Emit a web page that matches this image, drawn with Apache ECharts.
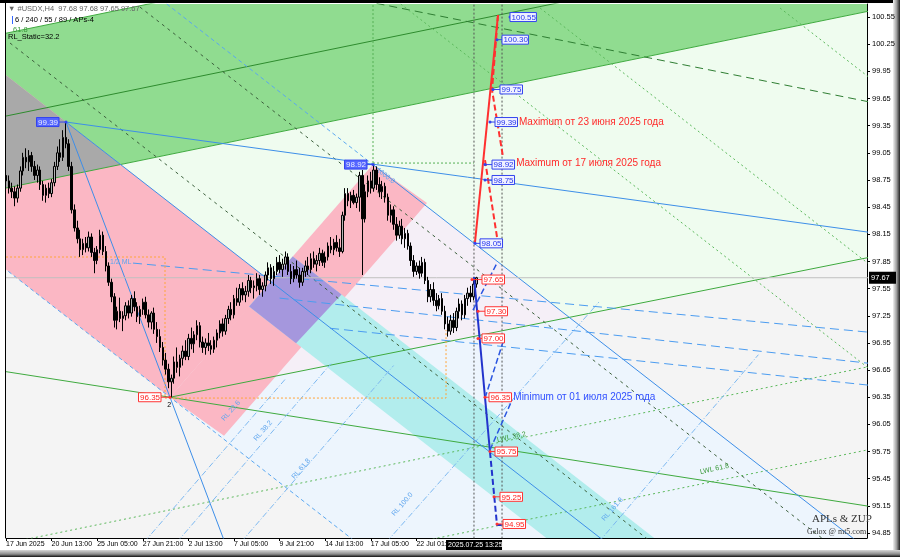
<!DOCTYPE html>
<html><head><meta charset="utf-8">
<script src="https://cdn.jsdelivr.net/npm/echarts@6/dist/echarts.min.js"></script>
<style>html,body{margin:0;padding:0;background:#fff;}#chart{width:900px;height:557px;}</style>
</head><body><div id="chart"></div>
<script>
// ---------- DATA ----------
const xTickBars = [0,16,32,48,64,80,96,112,128,144];
const xTickLabels = ['17 Jun 2025','20 Jun 13:00','25 Jun 05:00','27 Jun 21:00','2 Jul 13:00','7 Jul 05:00','9 Jul 21:00','14 Jul 13:00','17 Jul 05:00','22 Jul 01:00'];
const yTicks = [94.85,95.15,95.45,95.75,96.05,96.35,96.65,96.95,97.25,97.55,97.85,98.15,98.45,98.75,99.05,99.35,99.65,99.95,100.25,100.55];
const lastPrice = 97.67;
const lastTimeBar = 174.04;
const lastTimeText = '2025.07.25 13:25';
// H4 candles [open, high, low, close]
const ohlc = [
[98.80,98.86,98.70,98.74],[98.74,98.80,98.60,98.66],[98.66,98.72,98.55,98.62],[98.62,98.68,98.46,98.55],[98.55,98.70,98.50,98.66],
[98.66,98.90,98.62,98.85],[98.85,99.05,98.80,99.00],[99.00,99.10,98.88,98.95],[98.95,99.08,98.85,99.02],[99.02,99.06,98.84,98.90],
[98.90,98.96,98.75,98.80],[98.80,98.92,98.72,98.86],[98.86,98.90,98.64,98.70],[98.70,98.74,98.52,98.58],[98.58,98.70,98.50,98.66],
[98.66,98.72,98.55,98.60],[98.60,98.76,98.56,98.72],[98.72,98.95,98.68,98.90],[98.90,99.12,98.86,99.05],[99.05,99.20,98.95,99.00],
[99.00,99.30,98.96,99.22],[99.22,99.39,99.10,99.15],[99.15,99.20,98.85,98.90],[98.90,98.95,98.38,98.42],[98.42,98.48,98.18,98.22],
[98.22,98.30,98.05,98.10],[98.10,98.20,97.90,97.98],[97.98,98.10,97.92,98.05],[98.05,98.12,97.95,98.00],[98.00,98.18,97.96,98.12],
[98.12,98.16,97.90,97.95],[97.95,98.00,97.72,97.86],[97.86,98.02,97.82,97.98],[97.98,98.20,97.94,98.14],[98.14,98.18,97.92,97.96],
[97.96,98.02,97.74,97.80],[97.80,97.84,97.58,97.62],[97.62,97.66,97.40,97.46],[97.46,97.50,97.12,97.20],[97.20,97.35,97.10,97.30],
[97.30,97.45,97.18,97.22],[97.22,97.30,97.08,97.25],[97.25,97.40,97.20,97.36],[97.36,97.42,97.22,97.28],[97.28,97.48,97.24,97.44],
[97.44,97.52,97.30,97.35],[97.35,97.40,97.18,97.24],[97.24,97.36,97.16,97.32],[97.32,97.44,97.26,97.40],[97.40,97.46,97.22,97.26],
[97.26,97.32,97.12,97.18],[97.18,97.30,97.10,97.28],[97.28,97.34,97.05,97.10],[97.10,97.18,96.95,97.02],[97.02,97.10,96.85,96.90],
[96.90,96.96,96.70,96.76],[96.76,96.84,96.60,96.66],[96.66,96.72,96.45,96.52],[96.52,96.60,96.35,96.56],[96.56,96.80,96.50,96.74],
[96.74,96.90,96.62,96.68],[96.68,96.82,96.58,96.78],[96.78,96.92,96.70,96.86],[96.86,96.98,96.76,96.80],[96.80,97.05,96.76,97.00],
[97.00,97.12,96.88,96.94],[96.94,97.08,96.84,97.04],[97.04,97.20,96.98,97.14],[97.14,97.18,96.90,96.96],[96.96,97.02,96.84,96.90],
[96.90,97.00,96.82,96.95],[96.95,97.06,96.86,96.92],[96.92,96.98,96.82,96.88],[96.88,97.02,96.84,96.98],[96.98,97.10,96.90,97.06],
[97.06,97.20,97.00,97.16],[97.16,97.22,97.02,97.08],[97.08,97.26,97.04,97.22],[97.22,97.36,97.16,97.32],[97.32,97.40,97.20,97.26],
[97.26,97.48,97.22,97.44],[97.44,97.56,97.36,97.40],[97.40,97.60,97.36,97.55],[97.55,97.62,97.42,97.48],[97.48,97.58,97.40,97.52],
[97.52,97.70,97.46,97.64],[97.64,97.68,97.50,97.56],[97.56,97.64,97.44,97.58],[97.58,97.72,97.52,97.66],[97.66,97.70,97.48,97.54],
[97.54,97.62,97.46,97.58],[97.58,97.74,97.52,97.70],[97.70,97.84,97.64,97.78],[97.78,97.82,97.60,97.66],[97.66,97.80,97.58,97.74],
[97.74,97.90,97.70,97.84],[97.84,97.92,97.72,97.76],[97.76,97.88,97.68,97.82],[97.82,97.96,97.76,97.90],[97.90,97.94,97.70,97.74],
[97.74,97.82,97.60,97.66],[97.66,97.80,97.62,97.76],[97.76,97.86,97.66,97.70],[97.70,97.78,97.56,97.62],[97.62,97.78,97.58,97.74],
[97.74,97.86,97.68,97.80],[97.80,97.90,97.70,97.76],[97.76,97.94,97.72,97.88],[97.88,97.96,97.78,97.82],[97.82,97.92,97.74,97.86],
[97.86,98.00,97.80,97.94],[97.94,97.98,97.80,97.84],[97.84,97.96,97.78,97.90],[97.90,98.06,97.86,98.02],[98.02,98.12,97.94,97.98],
[97.98,98.10,97.92,98.06],[98.06,98.14,97.96,98.00],[98.00,98.10,97.90,97.96],[97.96,98.40,97.94,98.36],[98.36,98.66,98.30,98.60],
[98.60,98.66,98.46,98.52],[98.52,98.62,98.44,98.58],[98.58,98.64,98.48,98.50],[98.50,98.60,98.44,98.56],[98.56,98.84,98.40,98.80],
[98.80,98.86,97.70,98.32],[98.32,98.70,98.28,98.62],[98.62,98.80,98.56,98.74],[98.74,98.84,98.60,98.66],[98.66,98.92,98.62,98.86],
[98.86,98.90,98.64,98.70],[98.70,98.78,98.56,98.62],[98.62,98.74,98.54,98.68],[98.68,98.72,98.50,98.56],[98.56,98.60,98.30,98.36],
[98.36,98.48,98.28,98.42],[98.42,98.46,98.20,98.26],[98.26,98.34,98.08,98.14],[98.14,98.30,98.10,98.24],[98.24,98.32,98.04,98.10],
[98.10,98.22,98.00,98.16],[98.16,98.20,97.98,98.02],[98.02,98.06,97.80,97.86],[97.86,97.92,97.68,97.74],[97.74,97.84,97.70,97.80],
[97.80,97.86,97.66,97.72],[97.72,97.90,97.68,97.84],[97.84,97.88,97.60,97.64],[97.64,97.68,97.40,97.46],[97.46,97.60,97.40,97.54],
[97.54,97.62,97.36,97.42],[97.42,97.50,97.30,97.36],[97.36,97.48,97.32,97.44],[97.44,97.50,97.26,97.30],[97.30,97.36,97.10,97.16],
[97.16,97.24,97.02,97.08],[97.08,97.26,97.04,97.20],[97.20,97.28,97.06,97.12],[97.12,97.34,97.08,97.30],[97.30,97.44,97.22,97.38],
[97.38,97.42,97.20,97.26],[97.26,97.48,97.22,97.44],[97.44,97.56,97.36,97.50],[97.50,97.58,97.40,97.46],[97.46,97.64,97.42,97.60],
[97.60,97.68,97.56,97.67]
];
// filled regions, [bar, price] vertices
const polyBase = [[-5,94],[320,94],[320,101.5],[-5,101.5]];
const polyWhiteTop = [[-5,100.339],[60,100.758],[60,101.5],[-5,101.5]];
const polyGreenBand = [[-5,100.339],[310,102.372],[310,100.662],[-5,98.629]];
const polyMint = [[40.2,98.92],[310,100.662],[310,97.94],[197.6,97.232],[128.77,98.92],[93.16,97.622]];
const polyLightBlue = [[57.54,96.35],[197.6,97.232],[330,93.988],[330,89.671]];
const polyLavender = [[57.54,96.35],[128.77,98.92],[197.6,97.232]];
const polyPinkDesc = [[-5,100.029],[93.16,97.622],[57.54,96.35],[-5,97.883]];
const polyGray = [[-5,100.029],[40.2,98.92],[-5,98.629]];
const polyPinkAsc = [[57.54,96.35],[128.77,98.92],[147.72,98.495],[76.49,95.925]];
const polyTeal = [[100.61,97.904],[330,92.281],[330,91.353],[85.29,97.351]];
const polyPurple = [[85.29,97.351],[100.61,97.904],[117.72,97.484],[101.77,96.947]];
// lines
const lineU = [[-5,100.339],[310,102.372]];
const lineM = [[-5,99.424],[310,101.457]];
const lineL = [[-5,98.629],[310,100.662]];
const lineB = [[57.54,96.35],[310,97.94]];
const lineW = [[-5,96.657],[310,95.11]];
const lineGDash = [[130,100.701],[310,99.568]];
const lineD1 = [[-5,94.702],[310,96.735]];
const lineD2 = [[-5,93.785],[310,95.818]];
const lineGrDark1 = [[47.0,100.66],[306,94.31]];
const lineGrDark2 = [[1.4,100.263],[306,92.8]];
const lineGrA = [[138.5,100.694],[306,96.589]];
const lineGrB = [[187.4,100.649],[306,97.742]];
const lineGrC = [[271.6,100.649],[306,99.806]];
const lineML = [[21.05,99.39],[330,91.817]];
const lineQ = [[128.77,98.92],[330,93.988]];
const lineQback = [[56.4,100.694],[128.77,98.92]];
const linePL = [[-5,97.883],[330,89.671]];
const lineP1 = [[21.05,99.39],[310,98.141]];
const lineP2 = [[21.05,99.39],[80,94.479]];
const lineH1 = [[44.56,97.832],[310,97.047]];
const lineH2 = [[96,97.445],[310,96.7]];
const lineH3 = [[113.7,97.112],[310,96.459]];
const lineRL = [
  [[48.5,94.75],[98,96.55]],
  [[60.0,94.75],[114,96.72]],
  [[82.5,94.75],[136,96.70]],
  [[133.5,94.75],[208,97.40]],
  [[208.0,94.75],[264,96.82]]
];
const orangeDots = [[[0,97.899],[55.79,97.899],[55.79,96.341],[154.39,96.341],[154.39,97.092]]];
const greenDotH = [[128.77,98.937],[164.2,98.937]];
const greenDotV = [[128.77,98.937],[128.77,100.8]];
const vDot1 = [[164.2,94.7],[164.2,100.8]];
const vDot2 = [[174.04,94.7],[174.04,100.8]];
const priceLine = [[-5,97.67],[310,97.67]];
const redSolid = [[164.56,98.064],[172.63,100.572]];
const redDash1 = [[172.63,100.572],[170.53,99.744],[174.39,99.003]];
const redDash2 = [[168.07,98.97],[172.28,98.12]];
const blueSolid = [[164.21,97.678],[169.82,95.745]];
const blueDash1 = [[169.82,95.745],[172.28,94.938],[174.39,94.938]];
const blueDash2 = [[168.07,96.341],[174.39,96.96]];
const blueDash3 = [[163.86,97.313],[172.28,97.833]];
const blueDash4 = [[169.82,95.767],[177.54,96.319]];
// price boxes [tickFromBar, boxBar, price, text]
const blueBoxes = [
  [176.84,176.84,100.55,'100.55'],[172.28,174.04,100.30,'100.30'],[170.88,173.33,99.75,'99.75'],
  [169.82,171.58,99.39,'99.39'],[168.07,170.53,98.92,'98.92'],[168.07,170.53,98.75,'98.75'],[164.56,166.32,98.05,'98.05']
];
const redBoxes = [
  [163.51,167.02,97.65,'97.65'],[165.61,168.07,97.30,'97.30'],[165.61,167.02,97.00,'97.00'],
  [168.07,169.47,96.35,'96.35'],[169.82,171.58,95.75,'95.75'],[171.23,173.33,95.25,'95.25'],[172.28,174.39,94.95,'94.95']
];
const leftBlueBoxes = [[21.05,18.6,99.39,'99.39'],[128.77,126.67,98.92,'98.92']];
const leftRedBoxes = [[57.54,54.39,96.35,'96.35']];
// annotation texts [bar, price, text, rotationDeg]
const redNotes = [[180.0,99.39,'Maximum от 23 июня 2025 года',0],[179.0,98.93,'Maximum от 17 июля 2025 года',0]];
const blueNotes = [[178.0,96.35,'Minimum от 01 июля 2025 года',0]];
const rlLabels = [[76.1,96.098,'RL 23.6',49],[87.37,95.877,'RL 38.2',49],[100.7,95.457,'RL 61.8',49],[135.8,95.048,'RL 100.0',49],[209.5,94.993,'RL 161.8',49],[130.2,98.87,'1000.0',-38],[36.5,97.843,'1/2 ML',0]];
const greenLabels = [[243.5,95.524,'LWL 61.8',12],[172.3,95.877,'LWL 38.2',12]];
const pointLabels = [[56.6,96.26,'2',0]];

// ---------- RENDER ----------
const chart = echarts.init(document.getElementById('chart'));
const FONT = 'Liberation Sans, Arial, sans-serif';
function clipOf(params){const c=params.coordSys;return {type:'rect',shape:{x:c.x,y:c.y,width:c.width,height:c.height}};}
function poly(pts, color, z){
  return {type:'custom',coordinateSystem:'cartesian2d',z:z,silent:true,clip:true,data:[[pts[0][0],pts[0][1]]],
    renderItem:(params,api)=>({type:'group',clipPath:clipOf(params),children:[{type:'polygon',shape:{points:pts.map(p=>api.coord(p))},style:{fill:color}}]})};
}
function line(pts, color, type, width, z){
  return {type:'line',data:pts,symbol:'none',z:z,silent:true,clip:true,animation:false,
    lineStyle:{color:color,type:type,width:width}};
}
function texts(items, color, size, z){
  return {type:'custom',coordinateSystem:'cartesian2d',z:z,silent:true,data:items.map(d=>[d[0],d[1]]),
    renderItem:(params,api)=>{const d=items[params.dataIndex];const p=api.coord([d[0],d[1]]);
      return {type:'text',x:p[0],y:p[1],rotation:(d[3]||0)*Math.PI/180,
        style:{text:d[2],fill:color,font:size+'px '+FONT,align:'left',verticalAlign:'middle',textAlign:'left',textVerticalAlign:'middle'}};}};
}
function boxes(items, stroke, fill, txt, side, z){
  return {type:'custom',coordinateSystem:'cartesian2d',z:z,silent:true,data:items.map(d=>[d[1],d[2]]),
    renderItem:(params,api)=>{const d=items[params.dataIndex];
      const a=api.coord([d[0],d[2]]);const b=api.coord([d[1],d[2]]);
      const w=d[3].length*3.9+3;const x=side==='right'?b[0]:b[0]-w;
      return {type:'group',children:[
        {type:'line',shape:{x1:a[0],y1:a[1],x2:b[0],y2:b[1]},style:{stroke:stroke,lineWidth:1}},
        {type:'circle',shape:{cx:a[0],cy:a[1],r:1.5},style:{fill:stroke}},
        {type:'rect',shape:{x:x,y:b[1]-4.5,width:w,height:9},style:{fill:fill,stroke:stroke,lineWidth:1}},
        {type:'text',x:x+1.5,y:b[1]+0.5,style:{text:d[3],fill:txt,font:'8px '+FONT,align:'left',verticalAlign:'middle',textAlign:'left',textVerticalAlign:'middle'}}
      ]};}};
}
const series = [];
series.push(poly(polyBase,'#f4f4f4',1));
series.push(poly(polyWhiteTop,'#ffffff',1));
series.push(poly(polyGreenBand,'#90dc90',1));
series.push(poly(polyMint,'#effcef',1));
series.push(poly(polyLightBlue,'#edf5fd',1));
series.push(poly(polyLavender,'#f5eff7',1));
series.push(poly(polyPinkDesc,'#fbb7c4',1));
series.push(poly(polyGray,'#a9a9a9',1));
series.push(poly(polyPinkAsc,'#fbb7c4',1));
series.push(poly(polyTeal,'#b2eded',1));
series.push(poly(polyPurple,'#a597dd',1));
series.push(line(lineU,'#3faa3f','solid',1,3));
series.push(line(lineM,'#2e8b2e','solid',1,3));
series.push(line(lineL,'#3faa3f','solid',1,3));
series.push(line(lineB,'#3faa3f','solid',1,3));
series.push(line(lineW,'#3faa3f','solid',1,3));
series.push(line(lineGDash,'#2e7d32',[8,5],1,3));
series.push(line(lineD1,'#5cb85c',[2,3],1,3));
series.push(line(lineD2,'#5cb85c',[2,3],1,3));
series.push(line(lineGrDark1,'#3c5f3c',[3,4],1,3));
series.push(line(lineGrDark2,'#3c5f3c',[3,4],1,3));
series.push(line(lineGrA,'#5cb85c',[2,3],1,3));
series.push(line(lineGrB,'#5cb85c',[2,3],1,3));
series.push(line(lineGrC,'#5cb85c',[2,3],1,3));
series.push(line(lineML,'#3d8ee8','solid',1,3));
series.push(line(lineQ,'#3d8ee8','solid',1,3));
series.push(line(lineQback,'#5aa7f0',[4,3],1,3));
series.push(line(linePL,'#5aa7f0',[4,3],1,3));
series.push(line(lineP1,'#3d8ee8','solid',1,3));
series.push(line(lineP2,'#3d8ee8','solid',1,3));
series.push(line(lineH1,'#4b9cf0',[9,5],1,3));
series.push(line(lineH2,'#4b9cf0',[9,5],1,3));
series.push(line(lineH3,'#4b9cf0',[9,5],1,3));
lineRL.forEach(l=>series.push(line(l,'#7db8f0',[6,2,1,2],1,3)));
orangeDots.forEach(l=>series.push(line(l,'#ffa53a',[2,2],1,3)));
series.push(line(greenDotH,'#55b055',[2,2],1,3));
series.push(line(greenDotV,'#55b055',[2,2],1,3));
series.push(line(priceLine,'#c0c0c0','solid',1,3));
series.push(line(vDot1,'#555555',[2,2],1,4));
series.push(line(vDot2,'#555555',[2,2],1,4));
series.push({type:'candlestick',z:6,silent:true,animation:false,barWidth:2,
  data:ohlc.map((d,i)=>[i,d[0],d[3],d[2],d[1]]),
  itemStyle:{color:'#b4b4b4',color0:'#000000',borderColor:'#000000',borderColor0:'#000000',borderWidth:1}});
series.push(line(redSolid,'#ff3030','solid',2,7));
series.push(line(redDash1,'#ff3030',[6,3],2,7));
series.push(line(redDash2,'#ff3030',[6,3],2,7));
series.push(line(blueSolid,'#2233cc','solid',2,7));
series.push(line(blueDash1,'#2233cc',[6,3],2,7));
series.push(line(blueDash2,'#2a55e0',[6,3],1.5,7));
series.push(line(blueDash3,'#2a55e0',[6,3],1.5,7));
series.push(line(blueDash4,'#2a55e0',[6,3],1.5,7));
series.push(boxes(blueBoxes,'#3344ee','#f0f1ff','#2233ee','right',8));
series.push(boxes(redBoxes,'#ff3333','#ffffff','#ff2020','right',8));
series.push(boxes(leftBlueBoxes,'#3344ee','#5566ff','#e8ecff','left',8));
series.push(boxes(leftRedBoxes,'#ff3333','#ffffff','#ff2020','left',8));
series.push(texts(redNotes,'#ff2a2a',10,8));
series.push(texts(blueNotes,'#3050ff',10,8));
series.push(texts(rlLabels,'#5ea5ee',7,5));
series.push(texts(greenLabels,'#3b9a3b',7,5));
series.push(texts(pointLabels,'#000',7,8));
series.push({type:'custom',coordinateSystem:'cartesian2d',z:9,silent:true,data:[[302.1,lastPrice]],
  renderItem:(params,api)=>{const p=api.coord([302.1,lastPrice]);return {type:'group',children:[
    {type:'rect',shape:{x:p[0]+2,y:p[1]-6,width:27,height:12},style:{fill:'#000'}},
    {type:'text',x:p[0]+4,y:p[1]+0.5,style:{text:lastPrice.toFixed(2),fill:'#fff',font:'7.5px '+FONT,verticalAlign:'middle',textVerticalAlign:'middle'}}]};}});
series.push({type:'custom',coordinateSystem:'cartesian2d',z:9,silent:true,data:[[lastTimeBar,94.795]],
  renderItem:(params,api)=>{const p=api.coord([lastTimeBar,94.795]);return {type:'group',children:[
    {type:'rect',shape:{x:p[0]-56,y:p[1]+2,width:56,height:10},style:{fill:'#000'}},
    {type:'text',x:p[0]-54,y:p[1]+7.5,style:{text:lastTimeText,fill:'#fff',font:'7px '+FONT,verticalAlign:'middle',textVerticalAlign:'middle'}}]};}});

chart.setOption({
  animation:false,
  backgroundColor:'#ffffff',
  grid:{left:6,right:33,top:4,bottom:19,show:false},
  xAxis:{type:'value',min:0,max:302.1,
    axisLine:{show:true,onZero:false,lineStyle:{color:'#000',width:1}},
    axisTick:{show:true,customValues:xTickBars,length:3,lineStyle:{color:'#000'}},
    axisLabel:{customValues:xTickBars,formatter:(v)=>{const i=xTickBars.indexOf(Math.round(v));return i>=0?xTickLabels[i]:'';},
      align:'left',margin:3,fontSize:7,fontFamily:FONT,color:'#000'},
    splitLine:{show:false}},
  yAxis:{type:'value',position:'right',min:94.795,max:100.694,
    axisLine:{show:true,onZero:false,lineStyle:{color:'#000',width:1}},
    axisTick:{show:true,customValues:yTicks,length:3,lineStyle:{color:'#000'}},
    axisLabel:{customValues:yTicks,formatter:(v)=>v.toFixed(2),margin:5,fontSize:7.5,fontFamily:FONT,color:'#000'},
    splitLine:{show:false}},
  graphic:[
    {type:'rect',shape:{x:0,y:0,width:900,height:3},style:{fill:'#000'},z:-1},
    {type:'rect',shape:{x:5,y:3,width:1,height:535},style:{fill:'#000'},z:100},
    {type:'rect',shape:{x:893,y:0,width:7,height:557},z:-1,style:{fill:{type:'linear',x:0,y:0,x2:1,y2:0,colorStops:[{offset:0,color:'#f0f0f0'},{offset:0.5,color:'#a0a0a0'},{offset:1,color:'#222'}]}}},
    {type:'rect',shape:{x:0,y:550,width:900,height:7},z:-1,style:{fill:{type:'linear',x:0,y:0,x2:0,y2:1,colorStops:[{offset:0,color:'#d8d8d8'},{offset:0.6,color:'#8a8a8a'},{offset:1,color:'#111'}]}}},
    {type:'text',left:8,top:5,z:101,style:{text:'▼ #USDX,H4  97.68 97.68 97.65 97.67',fill:'#666',font:'7.5px '+FONT}},
    {type:'rect',shape:{x:12,y:16,width:1,height:8},style:{fill:'#3366ff'},z:101},
    {type:'text',left:15,top:16,z:101,style:{text:'6 / 240 / 55 / 89 / APs-4',fill:'#000',font:'7.5px '+FONT}},
    {type:'text',left:13,top:26,z:101,style:{text:'61.8',fill:'#3b9a3b',font:'7.5px '+FONT}},
    {type:'text',left:8,top:33,z:101,style:{text:'RL_Static=32.2',fill:'#000',font:'7.5px '+FONT}},
    {type:'text',left:812,top:514,z:101,style:{text:'APLs & ZUP',fill:'#333',font:'11px Liberation Serif, serif'}},
    {type:'text',left:807,top:528,z:101,style:{text:'Gelox @ mt5.com',fill:'#333',font:'8px Liberation Serif, serif'}}
  ],
  series:series
});
</script></body></html>
